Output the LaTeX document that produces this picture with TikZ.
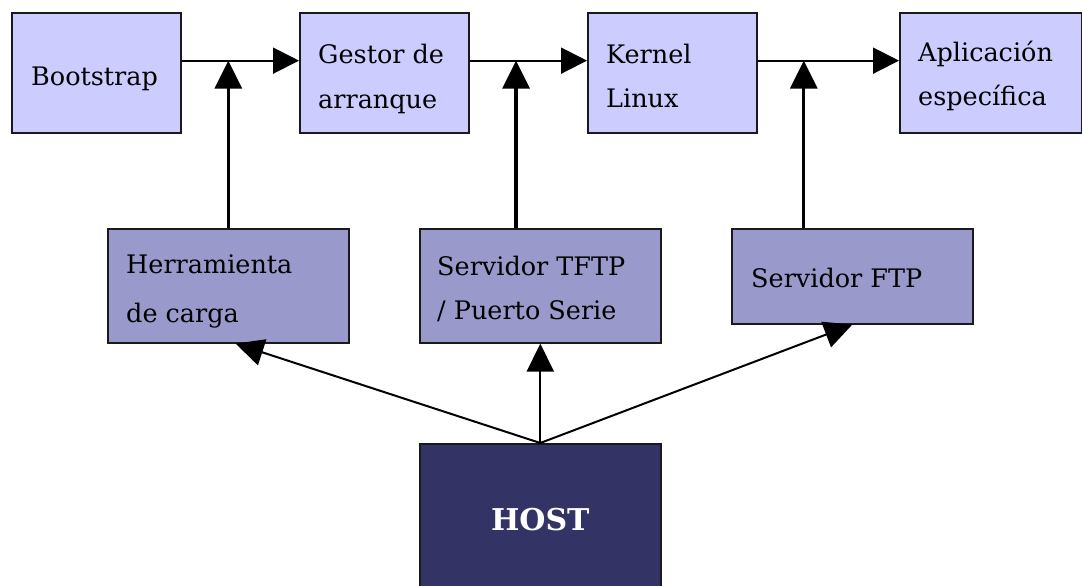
\documentclass[tikz,border=0pt]{standalone}
\usepackage{fontspec}
\setmainfont{DejaVu Serif}
\usetikzlibrary{arrows.meta,calc}
\definecolor{topfill}{HTML}{CCCCFF}
\definecolor{midfill}{HTML}{9999CC}
\definecolor{hostfill}{HTML}{333366}
\definecolor{edge}{HTML}{1A1A1A}
\begin{document}
\begin{tikzpicture}[x=1pt,y=-1pt,
  box/.style={draw=edge,line width=1.6pt,anchor=north west,inner sep=0pt},
  topbox/.style={box,fill=topfill,minimum height=120pt},
  midbox/.style={box,fill=midfill,minimum width=241pt},
  hostbox/.style={box,fill=hostfill,minimum width=241pt},
  lbl/.style={anchor=base west,inner sep=0pt,align=left,font=\fontsize{25.5}{#1}\selectfont},
  lbl/.default=45,
  harrow/.style={line width=2pt,-{Triangle[length=26pt,width=26pt]}},
  varrow/.style={line width=3.2pt,-{Triangle[length=28pt,width=27pt]}},
  hostarrow/.style={line width=2pt,-{Triangle[length=28pt,width=27pt]}}]
\useasboundingbox (0,0) rectangle (1082,586);
\begin{scope}
\clip (0,0) rectangle (1082,586);
\node[topbox,minimum width=169pt] (boot) at (11,12) {};
\node[topbox,minimum width=169pt] (gestor) at (299,12) {};
\node[topbox,minimum width=169pt] (kernel) at (587,12) {};
\node[topbox,minimum width=182pt] (aplic) at (899,12) {};
\node[midbox,minimum height=114pt] (herr) at (107,228) {};
\node[midbox,minimum height=114pt] (tftp) at (419,228) {};
\node[midbox,minimum height=95pt] (ftp) at (731,228) {};
\node[hostbox,minimum height=152pt] (host) at (419,443) {};
\end{scope}
% texts (base anchor = baseline of last line)
\node[lbl] (bootT) at ($(boot.north west)+(20,73)$) {Bootstrap};
\node[lbl] (gestorT) at ($(gestor.north west)+(19,96)$) {Gestor de\\arranque};
\node[lbl=44] (kernelT) at ($(kernel.north west)+(19,95)$) {Kernel\\Linux};
\node[lbl=44] (aplicT) at ($(aplic.north west)+(19,94)$) {Aplicación\\específica};
\node[lbl=49] (herrT) at ($(herr.north west)+(19,94)$) {Herramienta\\de carga};
\node[lbl=44] (tftpT) at ($(tftp.north west)+(18,91)$) {Servidor TFTP\\/ Puerto Serie};
\node[lbl] (ftpT) at ($(ftp.north west)+(20,59)$) {Servidor FTP};
\node[anchor=base,inner sep=0pt,text=white,font=\fontsize{30}{45}\selectfont\bfseries] (hostT) at ($(host.north)+(0,87)$) {HOST};
% horizontal chain at 40% of box height
\coordinate (b1) at ($(boot.north east)!0.4!(boot.south east)$);
\coordinate (g0) at ($(gestor.north west)!0.4!(gestor.south west)$);
\coordinate (g1) at ($(gestor.north east)!0.4!(gestor.south east)$);
\coordinate (k0) at ($(kernel.north west)!0.4!(kernel.south west)$);
\coordinate (k1) at ($(kernel.north east)!0.4!(kernel.south east)$);
\coordinate (a0) at ($(aplic.north west)!0.4!(aplic.south west)$);
\draw[harrow] (b1) -- (g0);
\draw[harrow] (g1) -- (k0);
\draw[harrow] (k1) -- (a0);
% vertical feeds
\coordinate (hs) at (herr.north);
\coordinate (ts) at ($(tftp.north west)!0.4!(tftp.north east)$);
\coordinate (fs) at ($(ftp.north west)!0.3!(ftp.north east)$);
\coordinate (j1) at (hs |- b1);
\coordinate (j2) at (ts |- g1);
\coordinate (j3) at (fs |- k1);
\draw[varrow] (hs) -- (j1);
\draw[varrow] (ts) -- (j2);
\draw[varrow] (fs) -- (j3);
% host feeds
\coordinate (ht) at ($(herr.south west)!0.53!(herr.south east)$);
\draw[hostarrow] (host.north) -- (ht);
\draw[hostarrow] (host.north) -- (tftp.south);
\draw[hostarrow] (host.north) -- (ftp.south);
\end{tikzpicture}
\end{document}
